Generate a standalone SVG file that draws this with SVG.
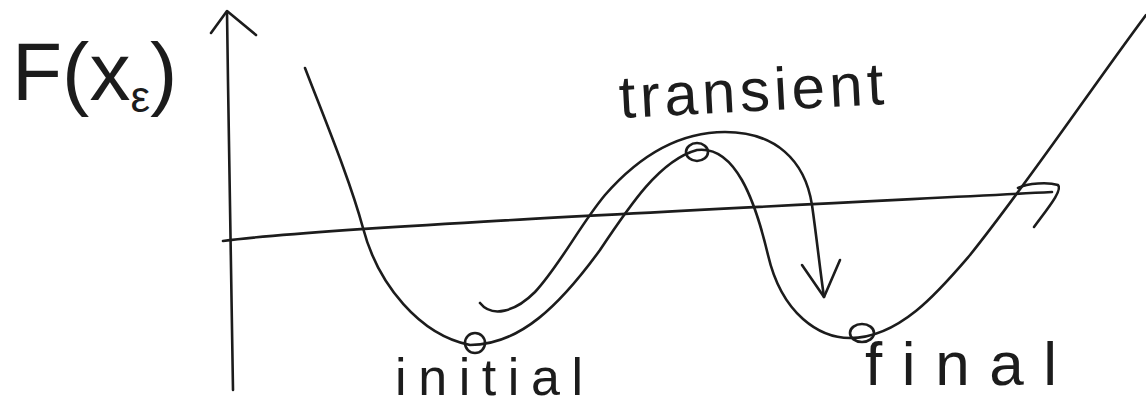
<svg xmlns="http://www.w3.org/2000/svg" width="1146" height="408" viewBox="0 0 1146 408">
<style>
.ink{fill:none;stroke:#1c1c1c;stroke-width:2.6;stroke-linecap:round;stroke-linejoin:round}
.lbl{font-family:"Liberation Sans",Arial,sans-serif;fill:#1c1c1c}
</style>
<rect width="1146" height="408" fill="#ffffff"/>
<g id="connectors">
  <g id="y-axis">
    <path class="ink" d="M233,390 C231,300 229,150 227,12"/>
    <path class="ink" d="M211,33 L227,11 L256,35"/>
  </g>
  <g id="x-axis">
    <path class="ink" d="M223,241 C320,228 700,210 1052,192"/>
    <path class="ink" d="M1018,188 C1028,183 1048,182 1058,185 C1063,190 1048,208 1034,227"/>
  </g>
  <path id="energy-curve" class="ink" d="M305,68 C325,120 350,180 363,228 C378,285 420,335 470,345 C520,345 560,305 600,250 C630,205 660,160 697,150 C735,145 755,200 768,255 C782,315 820,338 850,338 C900,338 940,290 970,255 C1030,180 1090,90 1146,15"/>
  <g id="transition-arrow">
    <path class="ink" d="M480,303 C492,318 515,312 535,292 C560,265 580,225 605,195 C640,155 680,132 725,132 C775,132 805,160 812,205 C817,240 820,270 824,297"/>
    <path class="ink" d="M802,265 L824,297 L840,260"/>
  </g>
</g>
<g id="node-ylabel">
  <text class="lbl" x="12" y="100" font-size="82">F(x<tspan font-size="44" dy="12">ε</tspan><tspan dy="-12" font-size="82">)</tspan></text>
</g>
<g id="node-initial">
  <circle class="ink" cx="475" cy="343" r="10"/>
  <text class="lbl" x="395" y="395" font-size="52" textLength="188" lengthAdjust="spacing">initial</text>
</g>
<g id="node-transient">
  <ellipse class="ink" cx="697" cy="152" rx="11" ry="9"/>
  <text class="lbl" x="620" y="118" font-size="60" textLength="265" lengthAdjust="spacing" transform="rotate(-3 620 118)">transient</text>
</g>
<g id="node-final">
  <ellipse class="ink" cx="862" cy="333" rx="12" ry="9"/>
  <text class="lbl" x="865" y="385" font-size="62" textLength="192" lengthAdjust="spacing">final</text>
</g>
</svg>
